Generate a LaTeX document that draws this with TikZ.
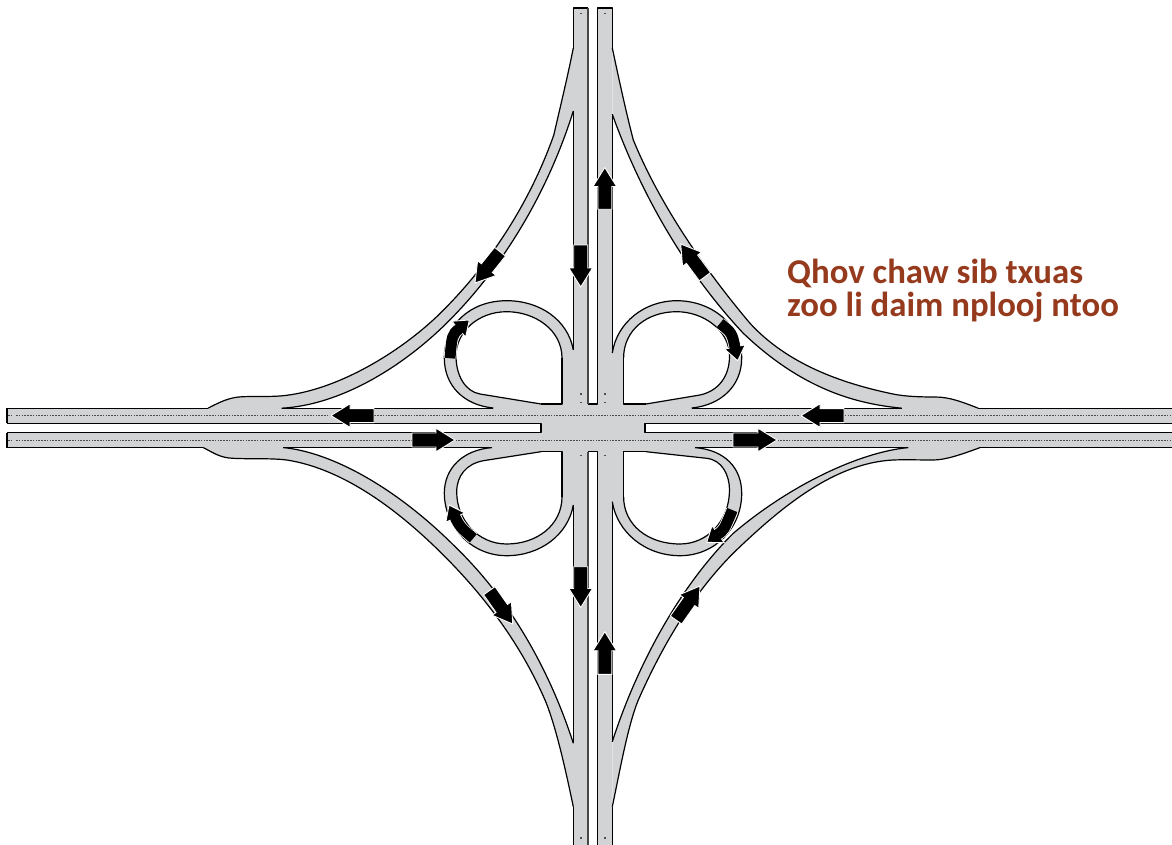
\documentclass[tikz,border=0pt]{standalone}
\usepackage{fontspec}
\setmainfont{Carlito}
\usetikzlibrary{calc}
\definecolor{roadgray}{HTML}{D1D3D4}
\definecolor{labelred}{HTML}{963A1E}
\tikzset{
  roadfill/.style={fill=roadgray,draw=none},
  roadedge/.style={draw=black,line width=1.2pt,line join=round},
  medianedge/.style={draw=black!72,line width=1.9pt},
  lanedash/.style={draw=black!70,line width=.9pt,dash pattern=on 1.6pt off 1.2pt},
  lanedot/.style={fill=black!70,draw=none},
  arrowbody/.style={fill=black,draw=white,line width=.9pt,line join=miter},
  label/.style={font=\bfseries\fontsize{34.8}{33}\selectfont,text=labelred,align=left,inner sep=0pt,anchor=north west}
}
% one ramp: outer edge runs one way, inner edge back the other way
\newcommand\roadpiece[2]{%
  \fill[roadfill] #1 -- #2 -- cycle;
  \draw[roadedge] #1;
  \draw[roadedge] #2;
}
% straight arrow: tail, tip
\newcommand\roadarrow[2]{%
  \coordinate (aT) at (#1); \coordinate (aH) at (#2);
  \coordinate (aN) at ($(aH)!19pt!(aT)$);
  \draw[arrowbody] ($(aT)!7pt!90:(aH)$) -- ($(aN)!7pt!90:(aH)$) -- ($(aN)!11.8pt!90:(aH)$) -- (aH)
     -- ($(aN)!11.8pt!-90:(aH)$) -- ($(aN)!7pt!-90:(aH)$) -- ($(aT)!7pt!-90:(aH)$) -- cycle;
}
% curved arrow on a loop: tail, control, tip
\newcommand\looparrow[3]{%
  \coordinate (aT) at (#1); \coordinate (aC) at (#2); \coordinate (aH) at (#3);
  \coordinate (aN) at ($(aH)!14pt!(aC)$);
  \draw[white,line width=12.6pt] (aT) .. controls (aC) .. (aN);
  \draw[black,line width=11pt] (aT) .. controls (aC) .. ($(aN)!-.5pt!(aC)$);
  \draw[arrowbody] ($(aN)!5.5pt!90:(aH)$) -- ($(aN)!10.5pt!90:(aH)$) -- (aH)
     -- ($(aN)!10.5pt!-90:(aH)$) -- ($(aN)!5.5pt!-90:(aH)$);
}
\begin{document}
\begin{tikzpicture}[x=1pt,y=-1pt]
\useasboundingbox (0,0) rectangle (1172,845);
\fill[white] (0,0) rectangle (1172,845);

% road surfaces
\fill[roadfill] (7,408.2) rectangle (1172,423.3);
\fill[roadfill] (7,432.7) rectangle (1172,447.6);
\fill[roadfill] (573.3,8) rectangle (588,845);
\fill[roadfill] (597.5,8) rectangle (612.3,845);
\fill[roadfill] (541,404) rectangle (645,452);
\fill[roadfill] (491,404) rectangle (696,423.3);
\fill[roadfill] (491,432.7) rectangle (696,452);
\fill[roadfill] (562,350) rectangle (573.5,404);
\fill[roadfill] (612,350) rectangle (623.5,404);
\fill[roadfill] (562,452) rectangle (573.5,505);
\fill[roadfill] (612,452) rectangle (623.5,505);

% long ramps
\roadpiece{(573.3,48) .. controls (568,75) and (560,108) .. (553.8,135) .. controls (529.8,203) and (488.7,266.7) .. (436.7,316.7) .. controls (393,358) and (325,396.4) .. (270,396.4) .. controls (258,396.6) and (250,396.4) .. (243,396.7) .. controls (230,397) and (220,402) .. (208,408.2)}
          {(281.7,408.2) .. controls (340,405) and (400,368) .. (443,326.7) .. controls (503,268.7) and (548.3,191) .. (573.3,111)}
\roadpiece{(612.3,48) .. controls (618,75) and (626,112) .. (633.3,140) .. controls (660,205) and (705,270) .. (750,323.3) .. controls (787,363.5) and (840,383) .. (893,394) .. controls (905,396.5) and (920,397) .. (935,397) .. controls (950,397) and (962,402) .. (978.3,408.2)}
          {(901.7,408.2) .. controls (860,404) and (805,392) .. (743.3,333.3) .. controls (685,271) and (641,194) .. (612.3,114.3)}
\roadpiece{(573.3,806.7) .. controls (566,772) and (556,726) .. (545,700) .. controls (521,645) and (486,597.6) .. (443.3,555) .. controls (400.7,512.4) and (345,469) .. (286.7,460) .. controls (270,458) and (255,459.3) .. (233,458.3) .. controls (220,458) and (212,452) .. (203.3,447.6)}
          {(283.3,447.6) .. controls (330,452) and (395,486) .. (456.7,548.3) .. controls (511,601) and (550,671) .. (573.3,743.3)}
\roadpiece{(612.3,806.7) .. controls (620,770) and (628,725) .. (638.3,700) .. controls (663,644) and (696,588) .. (740,546.7) .. controls (783,506) and (835,463) .. (893,460) .. controls (905,459.5) and (920,460) .. (933,460) .. controls (945,460) and (960,455) .. (980,447.6)}
          {(908.3,447.6) .. controls (860,452) and (790,485) .. (733.3,533.3) .. controls (678,588) and (636,668) .. (612.3,741.7)}

% loops
\roadpiece{(573.3,350) .. controls (568,320) and (540,300.7) .. (506.7,300.7) .. controls (470,300.7) and (444.3,325) .. (444.3,358) .. controls (444.3,385) and (463,405) .. (493.3,408)}
          {(541,404) -- (480,394) .. controls (465,391.5) and (456,375) .. (456,356) .. controls (456,332) and (478,311.7) .. (506.7,311.7) .. controls (535,311.7) and (562,330) .. (562,358)}
\roadpiece{(612.3,353) .. controls (617,322) and (645,300.7) .. (676.7,300.7) .. controls (712,300.7) and (741.7,325) .. (741.7,358) .. controls (741.7,385) and (722,405) .. (691.7,408)}
          {(646,404) -- (700,395) .. controls (718,391) and (729.5,377) .. (729.5,356) .. controls (729.5,330) and (703,311.7) .. (676.7,311.7) .. controls (647,311.7) and (623.6,330) .. (623.6,358)}
\roadpiece{(573.3,505) .. controls (568,535) and (540,555.7) .. (506.7,555.7) .. controls (470,555.7) and (444.3,525) .. (444.3,493.3) .. controls (444.3,468) and (463,450) .. (491.7,447.6)}
          {(541,451.7) -- (483.3,460.7) .. controls (466,464) and (456.7,476) .. (456.7,492) .. controls (456.7,520) and (478,544) .. (506.7,544) .. controls (537,544) and (562,525) .. (562,496.7)}
\roadpiece{(612.3,501.7) .. controls (617,532) and (645,555.7) .. (680,555.7) .. controls (715,555.7) and (741.7,528) .. (741.7,493.3) .. controls (741.7,468) and (725,450) .. (695,447.6)}
          {(646,451.7) -- (706.7,458.3) .. controls (722,460) and (729.5,475) .. (729.5,490) .. controls (729.5,520) and (708,544) .. (680,544) .. controls (648,544) and (623.6,525) .. (623.6,496.7)}

% lane centre lines
\draw[lanedash] (8,415.6) -- (12,415.6) (16,415.6) -- (1172,415.6);
\draw[lanedash] (8,440) -- (12,440) (16,440) -- (1172,440);
\foreach \px/\py in {581/13.3,605/13.3,581/394,605/394,581/402.7,605/402.7,581/455.7,605/455.7,581/838,605/838}
  \fill[lanedot] (\px-.6,\py-.6) rectangle (\px+.6,\py+.6);

% straight road edges
\draw[roadedge] (7,408.2) -- (208,408.2) (281.7,408.2) -- (493.3,408.2) (691.7,408.2) -- (901.7,408.2) (978.3,408.2) -- (1172,408.2);
\draw[roadedge] (1172,423.3) -- (645,423.3) -- (645,432.7) -- (1172,432.7);
\draw[roadedge] (7,423.3) -- (541,423.3) -- (541,432.7) -- (7,432.7);
\draw[roadedge] (7,447.6) -- (203.3,447.6) (283.3,447.6) -- (491.7,447.6) (695,447.6) -- (908.3,447.6) (980,447.6) -- (1172,447.6);
\draw[roadedge] (7,408.2) -- (7,423.3) (7,432.7) -- (7,447.6);
\draw[roadedge] (573.3,48) -- (573.3,8) -- (588,8);
\draw[roadedge] (612.3,48) -- (612.3,8) -- (597.5,8) -- (597.5,404) -- (588,404);
\draw[roadedge] (573.3,111) -- (573.3,350) (612.3,114.3) -- (612.3,353);
\draw[roadedge] (573.3,505) -- (573.3,743.3) (612.3,501.7) -- (612.3,741.7);
\draw[roadedge] (573.3,806.7) -- (573.3,845) (612.3,806.7) -- (612.3,845);
\draw[roadedge] (541,404) -- (562,404) -- (562,358) (646,404) -- (623.6,404) -- (623.6,358);
\draw[roadedge] (541,451.7) -- (562,451.7) -- (562,496.7) (646,451.7) -- (623.6,451.7) -- (623.6,496.7);
\draw[roadedge] (588,451.7) -- (597.5,451.7) -- (597.5,845);
\draw[medianedge] (588,8) -- (588,404) (588,451.7) -- (588,845);

% direction arrows
\roadarrow{580.7,245}{580.7,287}
\roadarrow{604.8,209.3}{604.8,167.5}
\roadarrow{580.7,566.7}{580.7,607.5}
\roadarrow{604.8,674.3}{604.8,631.7}
\roadarrow{374,415.6}{331,415.6}
\roadarrow{844,415.6}{801,415.6}
\roadarrow{412,440}{455,440}
\roadarrow{733,440}{777,440}
\roadarrow{500,251.7}{475,283}
\roadarrow{705,276.7}{680.7,244}
\roadarrow{489.3,590.7}{512.7,624}
\roadarrow{676,620}{700,586}
\looparrow{450,358.3}{452,335}{469.3,320}
\looparrow{720,323.3}{732,333}{737.7,360.7}
\looparrow{473.3,538.3}{460,527}{449,505}
\looparrow{732.3,510}{724,530}{706.7,542.3}

\node[label] (caption) at (787,259) {Qhov chaw sib txuas\\zoo li daim nplooj ntoo};
\end{tikzpicture}
\end{document}
